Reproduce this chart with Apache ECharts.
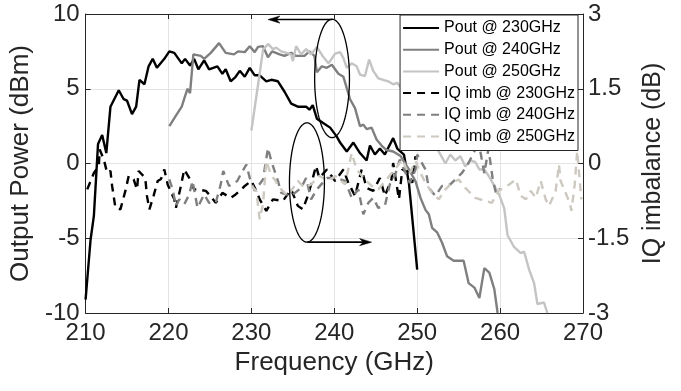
<!DOCTYPE html>
<html><head><meta charset="utf-8">
<script src="https://cdn.jsdelivr.net/npm/echarts@6/dist/echarts.min.js"></script>
<style>html,body{margin:0;padding:0;background:#fff}#c{width:681px;height:391px}</style>
</head><body><div id="c"></div>
<script>
// ---------------- data ----------------
const seriesNames = ['Pout @ 230GHz','Pout @ 240GHz','Pout @ 250GHz','IQ imb @ 230GHz','IQ imb @ 240GHz','IQ imb @ 250GHz'];
const xTicks = [210,220,230,240,250,260,270];
const yLeftTicks = [-10,-5,0,5,10];
const yRightTicks = [-3,-1.5,0,1.5,3];

const freqPout230 = [210.0,210.6,211.0,211.5,212.0,212.5,213.0,214.0,214.6,215.0,215.6,216.1,216.5,217.1,217.6,218.1,218.6,219.5,220.1,220.7,221.6,222.0,222.6,223.1,223.6,224.3,224.9,225.9,226.5,226.9,227.5,228.1,228.6,229.2,229.8,230.4,231.0,231.8,232.4,233.2,234.0,234.8,235.6,236.6,237.0,237.4,237.9,238.7,239.5,240.3,240.7,241.5,242.3,243.1,243.9,244.3,244.9,245.5,246.1,247.1,247.6,248.4,249.0,250.0];
const pout230 = [-9.1,-5.1,-3.5,1.3,1.9,0.7,3.8,4.9,4.3,4.2,3.3,3.8,5.6,5.3,6.5,7.0,6.4,7.0,7.5,7.4,6.7,7.0,6.55,7.0,6.3,6.9,6.3,6.5,6.0,6.3,5.5,5.8,6.2,5.8,6.4,5.9,5.9,5.5,5.6,5.5,4.8,4.0,3.8,3.8,3.6,3.9,3.0,2.7,2.4,1.8,1.4,0.8,1.4,0.7,0.2,1.2,0.6,1.0,0.6,1.7,1.0,0.6,-1.3,-7.1];

const freqPout240 = [220.1,220.9,221.6,222.0,222.3,222.6,223.0,223.9,224.3,225.1,226.1,226.9,227.9,228.4,229.2,229.8,230.4,230.8,231.4,232.0,232.5,233.4,234.0,234.8,235.4,236.4,237.0,237.6,237.9,238.5,239.1,239.7,240.5,241.1,241.9,242.5,243.1,243.5,243.9,244.5,245.1,245.7,246.3,247.1,248.0,249.0,249.8,250.4,251.0,251.4,251.8,252.4,253.0,253.6,254.4,255.6,256.2,256.9,257.5,258.1,258.7,259.3,259.7];
const pout240 = [2.5,3.2,3.8,4.5,5.0,4.7,7.3,7.2,7.0,7.4,8.05,7.4,7.3,7.5,7.45,7.85,7.45,7.8,7.85,7.1,7.5,7.3,7.2,7.4,7.2,7.2,7.5,7.2,6.1,6.5,6.4,6.6,6.0,5.8,4.3,3.7,2.5,2.6,2.3,2.4,1.6,1.2,0.9,0.8,0.5,-0.4,-1.2,-2.3,-3.1,-3.4,-4.3,-4.6,-5.3,-6.2,-6.5,-6.5,-8.0,-8.3,-9.0,-7.0,-7.3,-8.4,-10.0];

const freqPout250 = [230.0,230.6,231.0,231.4,232.0,232.6,233.0,233.6,234.2,234.8,235.0,235.4,236.0,236.6,237.2,237.9,238.7,239.3,240.1,240.7,241.1,241.5,242.1,242.7,243.1,243.7,244.2,244.7,245.3,245.9,246.5,247.1,247.6,248.8,250.6,252.4,253.4,254.0,254.6,255.2,255.8,256.4,257.0,257.5,258.1,258.7,259.3,259.9,260.5,260.9,261.7,262.5,262.9,263.5,264.1,264.5,265.3,265.7];
const pout250 = [2.2,4.5,6.0,7.6,8.0,7.65,7.75,7.5,7.4,7.3,6.85,7.85,7.3,7.65,7.3,7.8,7.1,6.7,7.35,7.45,7.05,6.4,6.7,6.5,5.95,5.85,6.95,6.2,5.7,5.6,5.5,5.3,5.4,4.5,2.5,1.0,0.0,0.6,0.2,0.5,-0.2,0.2,0.1,-0.4,-0.4,-0.9,-1.5,-2.1,-3.0,-4.8,-5.6,-6.0,-5.9,-7.1,-8.0,-9.4,-9.3,-10.0];

const freqIq230 = [210.2,211.0,211.6,211.7,212.2,212.6,213.0,213.2,213.6,214.2,214.8,215.2,215.8,216.2,216.4,217.2,217.4,217.7,218.2,218.7,219.1,219.5,219.9,220.7,220.9,221.5,221.9,222.5,223.1,223.5,224.5,224.9,225.7,226.5,227.5,228.1,228.8,229.2,230.0,230.6,231.0,231.8,232.6,232.8,233.8,234.8,235.6,236.2,236.8,237.2,237.8,238.2,239.1,240.1,241.1,241.7,242.5,243.3,243.9,244.7,245.5,246.1,246.9,247.1,247.8,248.2,249.0,249.4,249.8];
const iq230 = [-0.52,-0.19,-0.05,0.28,0.08,-0.19,-0.15,-0.45,-0.89,-0.92,-0.55,-0.25,-0.32,-0.52,-0.15,-0.29,-0.65,-0.92,-0.65,-0.35,-0.31,-0.12,-0.42,-0.72,-0.89,-0.45,-0.12,-0.29,-0.52,-0.52,-0.55,-0.62,-0.79,-0.59,-0.69,-0.62,-0.52,-0.45,-0.35,-0.55,-0.72,-0.95,-0.72,-0.69,-0.75,-0.52,-0.85,-0.92,-0.65,-0.42,-0.05,-0.29,-0.12,-0.35,-0.12,-0.39,-0.65,-0.12,-0.49,-0.55,-0.29,-0.65,-0.32,0.01,-0.72,-0.12,-0.19,-0.39,0.15];

const freqIq240 = [220.1,220.5,220.9,221.3,221.9,222.5,222.9,223.5,224.3,224.9,225.7,226.3,226.6,227.3,228.3,228.8,229.4,229.8,230.4,231.4,232.0,232.4,233.2,233.6,234.8,236.0,236.6,237.2,237.9,239.1,240.3,241.3,242.1,242.9,243.5,244.1,244.7,245.3,246.1,246.7,247.3,247.9,248.5,249.1,249.8,250.0,251.0,251.4,252.2,253.0,254.0,255.4,256.2,256.9,257.5,258.1,258.6,259.1,259.5,260.0];
const iq240 = [-0.32,-0.52,-0.85,-0.72,-0.82,-0.62,-0.35,-0.89,-0.62,-0.79,-0.79,-0.42,-0.15,-0.45,-0.35,-0.19,-0.02,-0.29,-0.55,-0.32,0.31,0.05,-0.35,-0.59,-0.65,-0.49,-0.29,-0.72,-0.52,-0.29,-0.29,-0.35,-0.69,-0.52,-1.02,-0.79,-0.69,-0.89,-0.85,-0.42,-0.25,0.08,-0.15,-0.39,-0.12,0.18,-0.12,-0.49,-0.65,-0.45,-0.42,-0.19,0.01,0.25,0.35,-0.2,0.3,-0.3,-0.6,-0.5];

const freqIq250 = [230.0,230.6,231.0,231.4,231.8,232.4,232.8,233.4,234.4,235.6,236.4,237.2,238.2,239.3,240.1,241.3,242.1,242.7,243.7,244.5,245.3,246.3,247.3,248.2,249.0,249.8,250.4,251.0,251.8,252.6,253.4,254.2,255.0,255.8,257.0,259.0,259.8,261.1,261.9,262.5,263.1,263.7,264.3,264.9,265.5,265.9,266.7,267.1,267.3,267.8,268.4,268.6,269.0,269.3,269.8];
const iq250 = [-0.45,-0.55,-1.12,-0.82,0.05,-0.25,-0.32,-0.49,-0.65,-0.35,-0.49,-0.42,-0.25,-0.35,-0.25,-0.42,0.21,-0.12,-0.32,-0.45,-0.52,-0.32,-0.12,0.08,-0.22,0.05,-0.19,-0.39,-0.59,-0.72,-0.52,-0.39,-0.32,-0.49,-0.69,-0.79,-0.55,-0.42,-0.32,-0.65,-0.72,-0.55,-0.69,-0.35,-0.72,-0.85,-0.55,-0.02,-0.35,-0.55,-0.79,-0.95,-0.42,0.25,-0.72];

// annotations (data coordinates, left axis)
const ellipseCenters = [[239.73, 5.69],[236.70, -1.27]];
const ellipseRadii = [[2.10, 3.96],[2.11, 3.99]];
const arrowLines = [[[239.73, 9.63],[232.0, 9.63]],[[236.76, -5.26],[244.5, -5.26]]];

// ---------------- chart ----------------
const FONT = 'Liberation Sans, Arial, Helvetica, sans-serif';
const AX = '#262626';
const colors = ['#000000','#7f7f7f','#c4c4c4','#000000','#7f7f7f','#cdc9c0'];
const pair = (fs, vs) => fs.map((f, i) => [f, vs[i]]);
const dataSets = [pair(freqPout230,pout230),pair(freqPout240,pout240),pair(freqPout250,pout250),pair(freqIq230,iq230),pair(freqIq240,iq240),pair(freqIq250,iq250)];

const chart = echarts.init(document.getElementById('c'), null, {renderer:'canvas'});
const series = dataSets.map((d, i) => ({
  name: seriesNames[i], type:'line', data:d, yAxisIndex: i < 3 ? 0 : 1,
  symbol:'none', showSymbol:false, smooth:false,
  lineStyle:{color:colors[i], width:2.4, type: i < 3 ? 'solid' : [8,6]},
  itemStyle:{color:colors[i]},
  z: 2, animation:false
}));

const xCommon = {type:'value', min:xTicks[0], max:xTicks[xTicks.length-1], interval:xTicks[1]-xTicks[0]};
chart.setOption({
  animation:false,
  backgroundColor:'#fff',
  grid:{left:78, right:98, top:14, bottom:78, containLabel:false},
  legend:{
    orient:'vertical', right:103, top:15,
    backgroundColor:'#fff', borderColor:AX, borderWidth:1, borderRadius:0,
    padding:[5,3,6,2], itemGap:5.7, itemWidth:36, itemHeight:16,
    itemStyle:{opacity:0, borderWidth:0},
    textStyle:{fontSize:16, fontFamily:FONT, color:'#000'},
    data: seriesNames, z: 20
  },
  xAxis:[Object.assign({}, xCommon, {
    position:'bottom',
    axisLine:{show:true, onZero:false, lineStyle:{color:AX, width:1}},
    axisTick:{show:true, inside:true, length:5, lineStyle:{color:AX}},
    axisLabel:{fontSize:24, color:AX, margin:8, fontFamily:FONT},
    splitLine:{show:true, lineStyle:{color:'#e3e3e3', width:1}},
    name:'Frequency (GHz)', nameLocation:'middle', nameGap:34,
    nameTextStyle:{fontSize:26, color:AX, fontFamily:FONT}
  }), Object.assign({}, xCommon, {
    position:'top',
    axisLine:{show:true, onZero:false, lineStyle:{color:AX, width:1}},
    axisTick:{show:true, inside:true, length:5, lineStyle:{color:AX}},
    axisLabel:{show:false}, splitLine:{show:false}
  })],
  yAxis:[{
    type:'value', position:'left', min:yLeftTicks[0], max:yLeftTicks[yLeftTicks.length-1], interval:yLeftTicks[1]-yLeftTicks[0],
    axisLine:{show:true, onZero:false, lineStyle:{color:AX, width:1}},
    axisTick:{show:true, inside:true, length:5, lineStyle:{color:AX}},
    axisLabel:{fontSize:24, color:AX, margin:6, fontFamily:FONT},
    splitLine:{show:true, lineStyle:{color:'#e3e3e3', width:1}},
    name:'Output Power (dBm)', nameLocation:'middle', nameGap:42, nameRotate:90,
    nameTextStyle:{fontSize:26, color:AX, fontFamily:FONT}
  },{
    type:'value', position:'right', min:yRightTicks[0], max:yRightTicks[yRightTicks.length-1], interval:yRightTicks[1]-yRightTicks[0],
    axisLine:{show:true, onZero:false, lineStyle:{color:AX, width:1}},
    axisTick:{show:true, inside:true, length:5, lineStyle:{color:AX}},
    axisLabel:{fontSize:24, color:AX, margin:5, fontFamily:FONT},
    splitLine:{show:false},
    name:'IQ imbalance (dB)', nameLocation:'middle', nameGap:52, nameRotate:90,
    nameTextStyle:{fontSize:25, color:AX, fontFamily:FONT}
  }],
  series: series
});

// annotations positioned through the axes
function toPx(p){ return chart.convertToPixel({xAxisIndex:0, yAxisIndex:0}, p); }
const gfx = [];
ellipseCenters.forEach((c, k) => {
  const pc = toPx(c);
  const pr = toPx([c[0] + ellipseRadii[k][0], c[1] + ellipseRadii[k][1]]);
  const rx = Math.abs(pr[0] - pc[0]), ry = Math.abs(pr[1] - pc[1]);
  const pts = [];
  for (let t = 0; t < 96; t++) { const a = t / 96 * Math.PI * 2; pts.push([pc[0] + rx * Math.cos(a), pc[1] + ry * Math.sin(a)]); }
  gfx.push({type:'polygon', shape:{points:pts}, style:{fill:'none', stroke:'#000', lineWidth:1.3}, z:30, silent:true});
});
arrowLines.forEach(seg => {
  const a = toPx(seg[0]), b = toPx(seg[1]);
  const dir = Math.sign(b[0] - a[0]);
  const hl = 12, hw = 3.6;
  gfx.push({type:'line', shape:{x1:a[0], y1:a[1], x2:b[0] - dir*hl*0.6, y2:b[1]}, style:{stroke:'#000', lineWidth:1.6}, z:30, silent:true});
  gfx.push({type:'polygon', shape:{points:[[b[0], b[1]], [b[0]-dir*hl, b[1]-hw], [b[0]-dir*hl*0.7, b[1]], [b[0]-dir*hl, b[1]+hw]]}, style:{fill:'#000', stroke:'#000', lineWidth:0.5}, z:30, silent:true});
});
chart.setOption({graphic: gfx});
</script></body></html>
